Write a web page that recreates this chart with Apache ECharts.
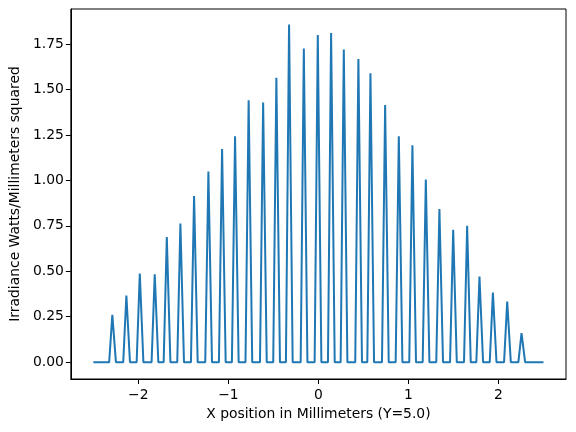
<!DOCTYPE html>
<html>
<head>
<meta charset="utf-8">
<script src="https://cdn.jsdelivr.net/npm/echarts@6/dist/echarts.min.js"></script>
<style>
  html, body { margin: 0; padding: 0; background: #fff; }
  #chart { width: 576px; height: 432px; }
</style>
</head>
<body>
<div id="chart"></div>
<script>
// x range of the scan (mm)
const xStart = -2.5;
const xEnd = 2.5;

// spike centres (mm) and their peak irradiance
const peakX = [-2.289, -2.133, -1.984, -1.818, -1.684, -1.533, -1.381, -1.222, -1.070, -0.926,
  -0.775, -0.614, -0.467, -0.326, -0.162, -0.007, 0.141, 0.282, 0.444, 0.578,
  0.741, 0.893, 1.044, 1.193, 1.344, 1.497, 1.652, 1.789, 1.938, 2.097, 2.256];
const peakY = [0.26, 0.367, 0.488, 0.484, 0.688, 0.763, 0.914, 1.048, 1.173, 1.242,
  1.44, 1.428, 1.564, 1.857, 1.725, 1.80, 1.811, 1.72, 1.668, 1.589,
  1.415, 1.242, 1.193, 1.004, 0.842, 0.728, 0.75, 0.471, 0.383, 0.334, 0.16];

// tick labels
const xTicks = [-2, -1, 0, 1, 2];
const yTicks = [0, 0.25, 0.5, 0.75, 1.0, 1.25, 1.5, 1.75];

// where each spike leaves / returns to zero, relative to its centre
const footL = 0.035;
const footR = 0.04;

let pts = [[xStart, 0]];
peakX.forEach((x, i) => {
  pts.push([x - footL, 0]);
  pts.push([x, peakY[i]]);
  pts.push([x + footR, 0]);
});
pts.push([xEnd, 0]);

const font = 'DejaVu Sans';
let myChart = echarts.init(document.getElementById('chart'));
myChart.setOption({
  animation: false,
  grid: {
    left: 70, right: 10, top: 9, bottom: 53,
    show: true, borderColor: '#000', borderWidth: 1, backgroundColor: 'transparent'
  },
  xAxis: {
    type: 'value',
    min: -2.75, max: 2.75,
    name: 'X position in Millimeters (Y=5.0)',
    nameLocation: 'middle',
    nameGap: 28,
    nameTextStyle: { fontFamily: font, fontSize: 13.9, color: '#000' },
    axisLine: { show: true, onZero: false, lineStyle: { color: '#000', width: 1 } },
    axisTick: { show: true, length: 5, customValues: xTicks, lineStyle: { color: '#000' } },
    axisLabel: {
      customValues: xTicks, margin: 9,
      fontFamily: font, fontSize: 13.9, color: '#000',
      formatter: v => (v < 0 ? '\u2212' + Math.abs(v) : String(v))
    },
    splitLine: { show: false }
  },
  yAxis: {
    type: 'value',
    min: -0.0925, max: 1.9425,
    name: 'Irradiance Watts/Millimeters squared',
    nameLocation: 'middle',
    nameGap: 48,
    nameTextStyle: { fontFamily: font, fontSize: 13.9, color: '#000' },
    axisLine: { show: true, onZero: false, lineStyle: { color: '#000', width: 1 } },
    axisTick: { show: true, length: 5, customValues: yTicks, lineStyle: { color: '#000' } },
    axisLabel: {
      customValues: yTicks, margin: 7,
      fontFamily: font, fontSize: 13.9, color: '#000',
      formatter: v => v.toFixed(2)
    },
    splitLine: { show: false }
  },
  series: [{
    type: 'line',
    data: pts,
    showSymbol: false,
    lineStyle: { color: '#1f77b4', width: 2 },
    itemStyle: { color: '#1f77b4' }
  }]
});
</script>
</body>
</html>
